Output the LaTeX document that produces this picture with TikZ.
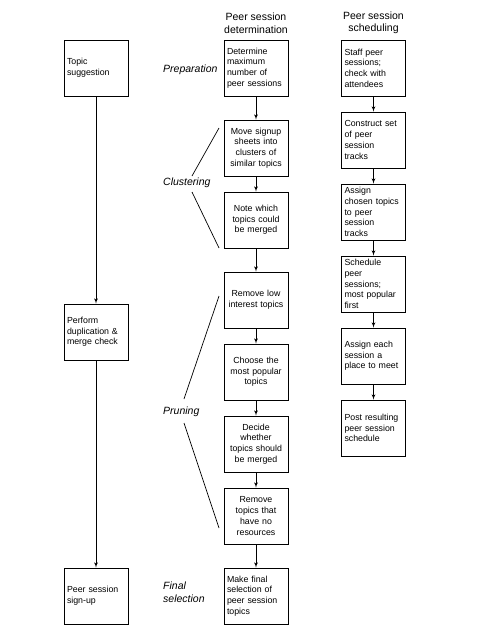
\documentclass[tikz,border=0pt]{standalone}
\usepackage{fontspec}
\setmainfont{Liberation Sans}
\usetikzlibrary{shapes,arrows}
\newcommand{\boxfont}{\fontsize{8.8}{10.7}\selectfont\hyphenpenalty=10000\relax}
\tikzstyle{block} = [rectangle, draw, line width=0.8pt, text width=58pt,
    minimum height=56pt, inner xsep=3pt, inner ysep=1pt, align=left,
    font=\boxfont]
\tikzstyle{cblock} = [block, align=center]
\tikzstyle{line} = [draw, -latex', line width=0.8pt]
\tikzstyle{brace} = [draw, line width=0.7pt]
\tikzstyle{phase} = [anchor=west, align=left, inner sep=0pt,
    font=\fontsize{10.5}{12.5}\selectfont\itshape]
\tikzstyle{heading} = [align=center, inner sep=0pt,
    font=\fontsize{10.5}{12.5}\selectfont]

\begin{document}
\begin{tikzpicture}[x=1pt, y=1pt]
    \useasboundingbox (0,0) rectangle (480,-640);

    % column headings
    \node [heading] (dethead) at (256,-23) {Peer session\\determination};
    \node [heading] (schedhead) at (373.5,-23) {Peer session\\scheduling};

    % left column
    \node [block] (sugg) at (96,-68) {Topic\\suggestion};
    \node [block, below of=sugg, node distance=264pt] (dup) {Perform\\duplication \&\\merge check};
    \node [block, below of=dup, node distance=264pt] (signup) {Peer session\\sign-up};

    % middle column
    \node [block] (maxnum) at (256,-68) {Determine\\maximum\\number of\\peer sessions};
    \node [cblock, below of=maxnum, node distance=80pt] (move) {Move signup\\sheets into\\clusters of\\similar topics};
    \node [cblock, below of=move, node distance=72pt] (note) {Note which\\topics could\\be merged};
    \node [cblock, below of=note, node distance=80pt] (lowint) {Remove low\\interest topics};
    \node [cblock, below of=lowint, node distance=72pt] (popular) {Choose the\\most popular\\topics};
    \node [cblock, below of=popular, node distance=72pt] (decide) {Decide\\whether\\topics should\\be merged};
    \node [cblock, below of=decide, node distance=72pt] (nores) {Remove\\topics that\\have no\\resources};
    \node [block, below of=nores, node distance=80pt] (final) {Make final\\selection of\\peer session\\topics};

    % right column
    \node [block] (staff) at (373.5,-68) {Staff peer\\sessions;\\check with\\attendees};
    \node [block, below of=staff, node distance=72pt] (tracks) {Construct set\\of peer\\session\\tracks};
    \node [block, below of=tracks, node distance=72pt] (assign) {Assign\\chosen topics\\to peer\\session\\tracks};
    \node [block, below of=assign, node distance=72pt] (sched) {Schedule\\peer\\sessions;\\most popular\\first};
    \node [block, below of=sched, node distance=72pt] (place) {Assign each\\session a\\place to meet};
    \node [block, below of=place, node distance=72pt] (post) {Post resulting\\peer session\\schedule};

    % phase labels
    \node [phase] (prep) at (163,-70) {Preparation};
    \node [phase] (clust) at (163,-183) {Clustering};
    \node [phase] (prun) at (163,-412) {Pruning};
    \node [phase] (finsel) at (163,-592) {Final\\selection};

    % brackets
    \path [brace] (219,-128) -- (192,-176);
    \path [brace] (192,-192) -- (219,-248);
    \path [brace] (219,-296) -- (184,-399);
    \path [brace] (184,-423) -- (219,-528);

    \path [line] (sugg) -- (dup);
    \path [line] (dup) -- (signup);

    \path [line] (maxnum) -- (move);
    \path [line] (move) -- (note);
    \path [line] (note) -- (lowint);
    \path [line] (lowint) -- (popular);
    \path [line] (popular) -- (decide);
    \path [line] (decide) -- (nores);
    \path [line] (nores) -- (final);

    \path [line] (staff) -- (tracks);
    \path [line] (tracks) -- (assign);
    \path [line] (assign) -- (sched);
    \path [line] (sched) -- (place);
    \path [line] (place) -- (post);

\end{tikzpicture}
\end{document}
